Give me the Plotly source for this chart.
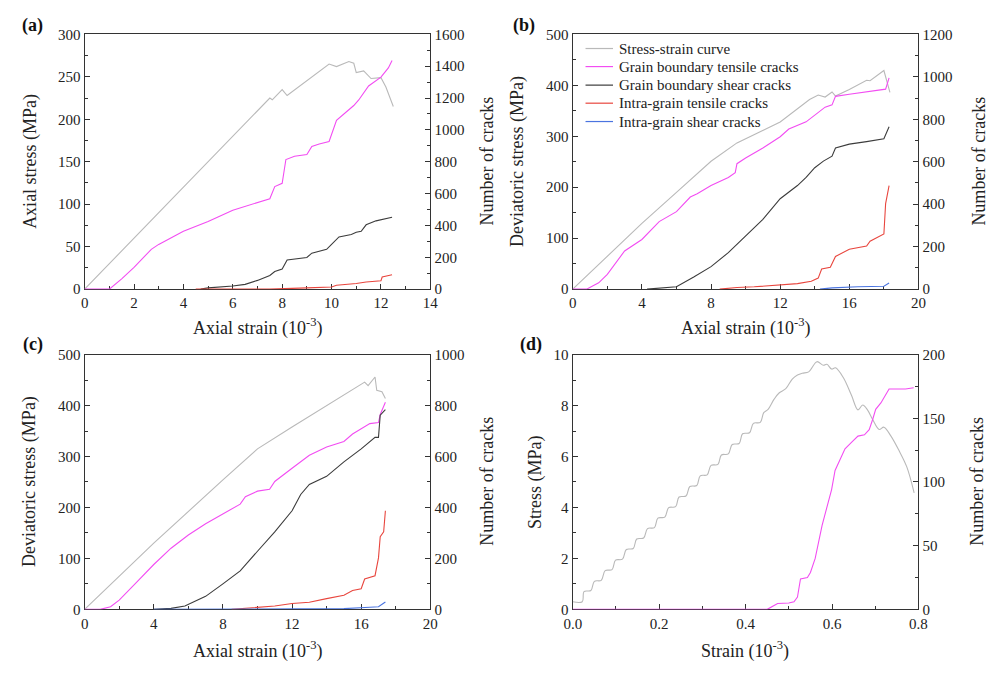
import plotly.graph_objects as go

# ---------------- Panel (a): uniaxial compression ----------------
a_stress_x = [0, 7.5, 7.6, 8.0, 8.2, 9.0, 9.9, 10.2, 10.7, 10.9, 11.0, 11.3, 11.6, 12.0, 12.2, 12.5]
a_stress_y = [0, 225, 223, 235, 228, 245, 265, 262, 268, 266, 255, 257, 248, 249, 238, 215]

a_gbt_x = [0, 1.0, 1.5, 2.0, 2.7, 3.0, 4.0, 5.0, 6.0, 7.0, 7.5, 7.7, 8.0, 8.15, 8.5, 9.0, 9.2, 9.5,
           9.9, 10.2, 10.6, 10.9, 11.1, 11.5, 12.0, 12.3, 12.45]
a_gbt_y = [0, 0, 65, 137, 250, 281, 363, 425, 496, 541, 568, 644, 665, 814, 835, 845, 896, 911,
           927, 1060, 1116, 1153, 1188, 1276, 1331, 1389, 1436]

a_gbs_x = [4.7, 5.0, 6.0, 6.5, 7.0, 7.5, 7.7, 8.0, 8.2, 8.5, 9.0, 9.2, 9.8, 10.0, 10.3, 10.8, 11.0,
           11.2, 11.4, 11.8, 12.0, 12.45]
a_gbs_y = [0, 8, 20, 30, 55, 86, 111, 127, 183, 189, 199, 226, 250, 281, 328, 343, 357,
           363, 404, 429, 435, 451]

a_igt_x = [4.5, 7.5, 9.0, 10.0, 10.2, 11.0, 11.4, 12.0, 12.05, 12.45]
a_igt_y = [0, 0, 8, 14, 25, 35, 45, 53, 76, 90]

# ---------------- Panel (b): triaxial, first confinement ----------------
b_stress_x = [0, 4, 6, 8, 9.5, 12, 13.7, 14.2, 14.6, 15.0, 15.2, 16.0, 17.0, 17.2, 18.0, 18.35]
b_stress_y = [0, 129, 190, 251, 287, 328, 372, 381, 377, 387, 379, 392, 410, 409, 429, 386]

b_gbt_x = [0, 0.8, 1.5, 2.0, 3.0, 4.0, 5.0, 6.0, 6.8, 7.2, 8.0, 9.0, 9.4, 9.5, 10.0, 11.0, 12.0,
           12.5, 13.5, 14.0, 14.6, 15.0, 15.2, 16.0, 17.0, 18.0, 18.1, 18.3]
b_gbt_y = [0, 0, 30, 70, 180, 234, 318, 365, 434, 449, 488, 526, 549, 591, 618, 665, 718,
           754, 788, 818, 857, 868, 908, 918, 929, 938, 942, 995]

b_gbs_x = [4.3, 6.0, 7.0, 8.0, 9.0, 10.0, 11.0, 12.0, 12.5, 13.0, 13.5, 14.0, 14.5, 15.0, 15.2,
           16.0, 17.0, 18.0, 18.3]
b_gbs_y = [0, 11, 57, 106, 172, 249, 329, 426, 457, 488, 526, 572, 603, 626, 665,
           683, 695, 708, 765]

b_igt_x = [8.5, 9.5, 10.5, 12.0, 13.0, 13.8, 14.2, 14.4, 14.9, 15.2, 16.0, 17.0, 17.2, 18.0, 18.1, 18.3]
b_igt_y = [0, 8, 11, 18, 26, 37, 52, 95, 103, 154, 188, 203, 226, 260, 403, 488]

b_igs_x = [14.3, 15.0, 16.5, 18.0, 18.3]
b_igs_y = [0, 6, 11, 14, 29]

# ---------------- Panel (c): triaxial, second confinement ----------------
c_stress_x = [0, 4, 8, 10, 12, 14, 16, 16.2, 16.4, 16.8, 16.9, 17.2, 17.4]
c_stress_y = [0, 130, 254, 315, 358, 400, 441, 446, 439, 456, 430, 427, 414]

c_gbt_x = [0, 0.9, 1.5, 2.0, 3.0, 4.0, 5.0, 6.0, 7.0, 8.0, 9.0, 9.3, 10.0, 10.7, 11.0, 12.0,
           13.0, 14.0, 15.0, 15.5, 16.5, 17.0, 17.1, 17.4]
c_gbt_y = [0, 0, 10, 36, 106, 176, 240, 292, 336, 375, 413, 442, 464, 471, 502, 554,
           605, 637, 659, 688, 729, 733, 765, 813]

c_gbs_x = [4.0, 5.0, 5.8, 6.5, 7.0, 8.0, 9.0, 10.0, 11.0, 12.0, 12.5, 13.0, 14.0, 15.0, 16.0,
           16.8, 17.0, 17.1, 17.4]
c_gbs_y = [0, 4, 13, 36, 51, 100, 151, 228, 304, 387, 451, 490, 522, 579, 630,
           675, 675, 762, 784]

c_igt_x = [8.5, 10.0, 11.0, 12.0, 13.0, 14.0, 15.0, 15.5, 16.0, 16.2, 16.8, 17.0, 17.1, 17.3, 17.4]
c_igt_y = [0, 8, 13, 23, 28, 42, 55, 74, 81, 119, 132, 202, 285, 304, 387]

c_igs_x = [4.0, 15.0, 16.5, 17.0, 17.4]
c_igs_y = [0, 3, 8, 10, 29]

# ---------------- Panel (d): tension ----------------
d_stress_x = [0, 0.022, 0.026, 0.042, 0.050, 0.066, 0.075, 0.091, 0.099, 0.115, 0.124, 0.140,
              0.148, 0.164, 0.173, 0.189, 0.197, 0.213, 0.222, 0.238, 0.246, 0.262, 0.271, 0.287,
              0.295, 0.311, 0.320, 0.336, 0.344, 0.360, 0.369, 0.385, 0.393, 0.409, 0.418, 0.434,
              0.442, 0.452, 0.466, 0.478, 0.493, 0.508, 0.520, 0.531, 0.546, 0.565, 0.580, 0.588,
              0.599, 0.608, 0.626, 0.645, 0.660, 0.671, 0.682, 0.694, 0.709, 0.720, 0.736, 0.755,
              0.773, 0.790]
d_stress_y = [0.30, 0.30, 0.70, 0.74, 1.10, 1.14, 1.52, 1.56, 1.93, 1.97, 2.35, 2.39,
              2.76, 2.80, 3.17, 3.21, 3.58, 3.62, 3.99, 4.03, 4.41, 4.45, 4.82, 4.86,
              5.24, 5.28, 5.65, 5.69, 6.06, 6.10, 6.47, 6.51, 6.89, 6.93, 7.30, 7.34,
              7.72, 7.85, 8.25, 8.50, 8.66, 9.04, 9.20, 9.27, 9.32, 9.72, 9.58, 9.62,
              9.43, 9.48, 9.10, 8.40, 7.83, 8.02, 7.83, 7.45, 7.06, 7.15, 6.81, 6.23,
              5.59, 4.57]

d_gbt_x = [0, 0.45, 0.474, 0.49, 0.50, 0.512, 0.52, 0.527, 0.543, 0.55, 0.561, 0.577, 0.588,
           0.599, 0.607, 0.622, 0.63, 0.645, 0.66, 0.675, 0.686, 0.694, 0.701, 0.713, 0.732,
           0.77, 0.789]
d_gbt_y = [0, 0, 4.6, 5, 5, 5.9, 9.7, 23.8, 25, 28.9, 40, 66, 79,
           94, 109, 120, 126, 131, 136, 137, 141, 149, 157, 162, 173,
           173, 174]

SERIES_KEYS = ["stress", "gbt", "gbs", "igt", "igs"]
SERIES_NAMES = ["Stress-strain curve", "Grain boundary tensile cracks",
                "Grain boundary shear cracks", "Intra-grain tensile cracks",
                "Intra-grain shear cracks"]
COLORS = {"stress": "#b9b9b9", "gbt": "#f24df2", "gbs": "#3c3c3c",
          "igt": "#e8463e", "igs": "#4a74e0"}
NAMES = dict(zip(SERIES_KEYS, SERIES_NAMES))

FONT = "Liberation Serif"
INK = "#222222"
AXIS = "#333333"
W, H = 1008, 673

fig = go.Figure()


def line(x, y, xa, ya, key, shape="linear"):
    fig.add_trace(go.Scatter(x=x, y=y, xaxis=xa, yaxis=ya, mode="lines", name=NAMES[key],
                             showlegend=False,
                             line=dict(color=COLORS[key], width=1.1, shape=shape)))


# (a)
line(a_stress_x, a_stress_y, "x", "y", "stress")
line(a_gbt_x, a_gbt_y, "x", "y2", "gbt")
line(a_gbs_x, a_gbs_y, "x", "y2", "gbs")
line(a_igt_x, a_igt_y, "x", "y2", "igt")
# (b)
line(b_stress_x, b_stress_y, "x2", "y3", "stress")
line(b_gbt_x, b_gbt_y, "x2", "y4", "gbt")
line(b_gbs_x, b_gbs_y, "x2", "y4", "gbs")
line(b_igt_x, b_igt_y, "x2", "y4", "igt")
line(b_igs_x, b_igs_y, "x2", "y4", "igs")
# (c)
line(c_stress_x, c_stress_y, "x3", "y5", "stress")
line(c_gbt_x, c_gbt_y, "x3", "y6", "gbt")
line(c_gbs_x, c_gbs_y, "x3", "y6", "gbs")
line(c_igt_x, c_igt_y, "x3", "y6", "igt")
line(c_igs_x, c_igs_y, "x3", "y6", "igs")
# (d)
line(d_stress_x, d_stress_y, "x4", "y7", "stress", shape="spline")
line(d_gbt_x, d_gbt_y, "x4", "y8", "gbt")


def axis_style(rng, dtick, minor, mirror=True, fmt=None):
    d = dict(range=rng, dtick=dtick, tick0=0, showline=True, linecolor=AXIS, linewidth=1.3,
             mirror=mirror, ticks="inside", ticklen=5, tickwidth=1.2, tickcolor=AXIS,
             showgrid=False, zeroline=False, layer="below traces",
             tickfont=dict(family=FONT, size=15, color=INK),
             minor=dict(ticks="inside", ticklen=3, tickwidth=1.1, tickcolor=AXIS,
                        dtick=minor, tick0=0, showgrid=False))
    if fmt:
        d["tickformat"] = fmt
    return d


cols = [(77, 429), (574, 926)]
rows = [(27, 288), (355, 616)]


def xdom(c):
    return [cols[c][0] / W, cols[c][1] / W]


def ydom(r):
    return [(H - rows[r][1]) / H, (H - rows[r][0]) / H]


layout = dict(
    width=W, height=H, margin=dict(l=0, r=0, t=0, b=0),
    paper_bgcolor="white", plot_bgcolor="white",
    font=dict(family=FONT, color=INK), showlegend=False,
)

# panel (a)
layout["xaxis"] = dict(axis_style([0, 14], 2, 1), domain=xdom(0), anchor="y")
layout["yaxis"] = dict(axis_style([0, 300], 50, 25), domain=ydom(0), anchor="x")
layout["yaxis2"] = dict(axis_style([0, 1600], 200, 100, mirror=False), overlaying="y",
                        side="right", anchor="x")
# panel (b)
layout["xaxis2"] = dict(axis_style([0, 20], 4, 2), domain=xdom(1), anchor="y3")
layout["yaxis3"] = dict(axis_style([0, 500], 100, 50), domain=ydom(0), anchor="x2")
layout["yaxis4"] = dict(axis_style([0, 1200], 200, 100, mirror=False), overlaying="y3",
                        side="right", anchor="x2")
# panel (c)
layout["xaxis3"] = dict(axis_style([0, 20], 4, 2), domain=xdom(0), anchor="y5")
layout["yaxis5"] = dict(axis_style([0, 500], 100, 50), domain=ydom(1), anchor="x3")
layout["yaxis6"] = dict(axis_style([0, 1000], 200, 100, mirror=False), overlaying="y5",
                        side="right", anchor="x3")
# panel (d)
layout["xaxis4"] = dict(axis_style([0, 0.8], 0.2, 0.1, fmt=".1f"), domain=xdom(1), anchor="y7")
layout["yaxis7"] = dict(axis_style([0, 10], 2, 1), domain=ydom(1), anchor="x4")
layout["yaxis8"] = dict(axis_style([0, 200], 50, 25, mirror=False), overlaying="y7",
                        side="right", anchor="x4")

fig.update_layout(**layout)


def px(x, y):
    return x / W, 1 - y / H


# Series key drawn inside panel (b): short line sample followed by its name
key_rows = [41.5, 60, 79, 97.5, 116.3]
for key, ry in zip(SERIES_KEYS, key_rows):
    x0, y0 = px(587, ry)
    x1, _ = px(615, ry)
    fig.add_shape(type="line", xref="paper", yref="paper", x0=x0, x1=x1, y0=y0, y1=y0,
                  line=dict(color=COLORS[key], width=1.2))
    tx, ty = px(619, ry)
    fig.add_annotation(text=NAMES[key], x=tx, y=ty, xref="paper", yref="paper",
                       xanchor="left", yanchor="middle", showarrow=False,
                       font=dict(family=FONT, size=15, color=INK))

# Panel letters (bold) and axis titles placed in pixel coordinates
labels = [("(a)", 24, 18), ("(b)", 524, 18), ("(c)", 24, 345), ("(d)", 531, 345)]
for txt, tx_, ty_ in labels:
    ax_, ay_ = px(tx_, ty_)
    fig.add_annotation(text=txt, x=ax_, y=ay_, xref="paper", yref="paper",
                       xanchor="center", yanchor="middle", showarrow=False,
                       font=dict(family=FONT, size=18, color="#111111", weight="bold"))

titles = [
    ("Axial stress (MPa)", 22, 157, -90), ("Number of cracks", 487, 157, -90),
    ("Axial strain (10<sup>-3</sup>)", 253, 327, 0),
    ("Deviatoric stress (MPa)", 518, 157, -90), ("Number of cracks", 988, 157, -90),
    ("Axial strain (10<sup>-3</sup>)", 750, 327, 0),
    ("Deviatoric stress (MPa)", 21, 485, -90), ("Number of cracks", 487, 485, -90),
    ("Axial strain (10<sup>-3</sup>)", 253, 658, 0),
    ("Stress (MPa)", 536, 485, -90), ("Number of cracks", 986, 485, -90),
    ("Strain (10<sup>-3</sup>)", 749, 658, 0),
]
for txt, tx_, ty_, ang in titles:
    ax_, ay_ = px(tx_, ty_)
    fig.add_annotation(text=txt, x=ax_, y=ay_, xref="paper", yref="paper",
                       xanchor="center", yanchor="middle", showarrow=False, textangle=ang,
                       font=dict(family=FONT, size=18, color=INK))

fig.write_html("out.html")
